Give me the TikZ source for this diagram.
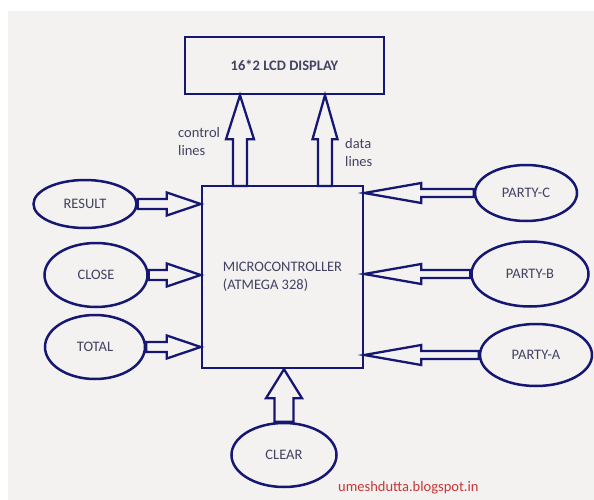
\documentclass[tikz,border=0pt]{standalone}
\usepackage{fontspec}
\setmainfont{Carlito}
\usetikzlibrary{shapes.geometric,calc}
\definecolor{navy}{RGB}{22,22,115}
\definecolor{txtgray}{RGB}{66,66,98}
\definecolor{paper}{RGB}{243,242,240}
\definecolor{blogred}{RGB}{200,55,55}
\tikzstyle{every node}=[font=\fontsize{14.5}{18}\selectfont, text=txtgray]
\tikzstyle{box}=[rectangle, draw=navy, line width=2.5pt, inner sep=0pt]
\tikzstyle{oval}=[ellipse, draw=navy, line width=2.5pt, inner sep=0pt]
\tikzstyle{fat}=[draw=navy, line width=2.3pt, fill=paper]
% hollow block arrow: from, tip, shaft half width, head half width, head length
\newcommand{\fatarrow}[5]{%
  \coordinate (hb) at ($(#2)!#5pt!(#1)$);
  \draw[fat] ($(#1)!#3pt!90:(#2)$) -- ($(hb)!#3pt!90:(#2)$) -- ($(hb)!#4pt!90:(#2)$)
    -- (#2) -- ($(hb)!#4pt!-90:(#2)$) -- ($(hb)!#3pt!-90:(#2)$) -- ($(#1)!#3pt!-90:(#2)$) -- cycle;
}

\begin{document}
\begin{tikzpicture}[x=1pt,y=-1pt]
\fill[white] (0,0) rectangle (594,500);
\fill[paper] (8,11) rectangle (594,500);

% blocks
\node[box, minimum width=199, minimum height=57] (lcd) at (284.5,65.5) {\textbf{16*2 LCD DISPLAY}\hspace{18pt}};
\node[box, minimum width=161, minimum height=182, align=left] (mc) at (282.5,277) {MICROCONTROLLER\\(ATMEGA 328)};

% inputs
\node[oval, minimum width=103, minimum height=48] (result) at (85,204) {RESULT};
\node[oval, minimum width=103, minimum height=64] (close) at (96,275) {CLOSE};
\node[oval, minimum width=100, minimum height=64] (total) at (95,347) {TOTAL};
\node[oval, minimum width=102, minimum height=56] (partyc) at (526,193) {PARTY-C};
\node[oval, minimum width=117, minimum height=65] (partyb) at (530,274) {PARTY-B};
\node[oval, minimum width=112, minimum height=62] (partya) at (536,355) {PARTY-A};
\node[oval, minimum width=105, minimum height=64] (clear) at (284,455) {CLEAR};

% connectors
\fatarrow{result.east}{mc.west |- result.east}{5}{11.5}{34}
\fatarrow{close.east}{mc.west |- close.east}{5}{11.5}{34}
\fatarrow{total.east}{mc.west |- total.east}{5}{11.5}{34}
\fatarrow{partyc.west}{mc.east |- partyc.west}{4}{10}{57}
\fatarrow{partyb.west}{mc.east |- partyb.west}{4}{10}{57}
\fatarrow{partya.west}{mc.east |- partya.west}{4}{10}{57}
\fatarrow{clear.north}{mc.south -| clear.north}{9.5}{18}{29}
\coordinate (ctl) at (240,186);
\coordinate (dat) at (325,186);
\fatarrow{ctl}{lcd.south -| ctl}{7}{14}{44}
\fatarrow{dat}{lcd.south -| dat}{7}{12.5}{44}

% labels
\node[anchor=north west, inner sep=0pt, align=left] (ctllbl) at (178,127) {control\\lines};
\node[anchor=north west, inner sep=0pt, align=left] (datlbl) at (345,138) {data\\lines};
\node[anchor=base west, inner sep=0pt, text=blogred] (blog) at (338,491) {umeshdutta.blogspot.in};
\end{tikzpicture}
\end{document}
